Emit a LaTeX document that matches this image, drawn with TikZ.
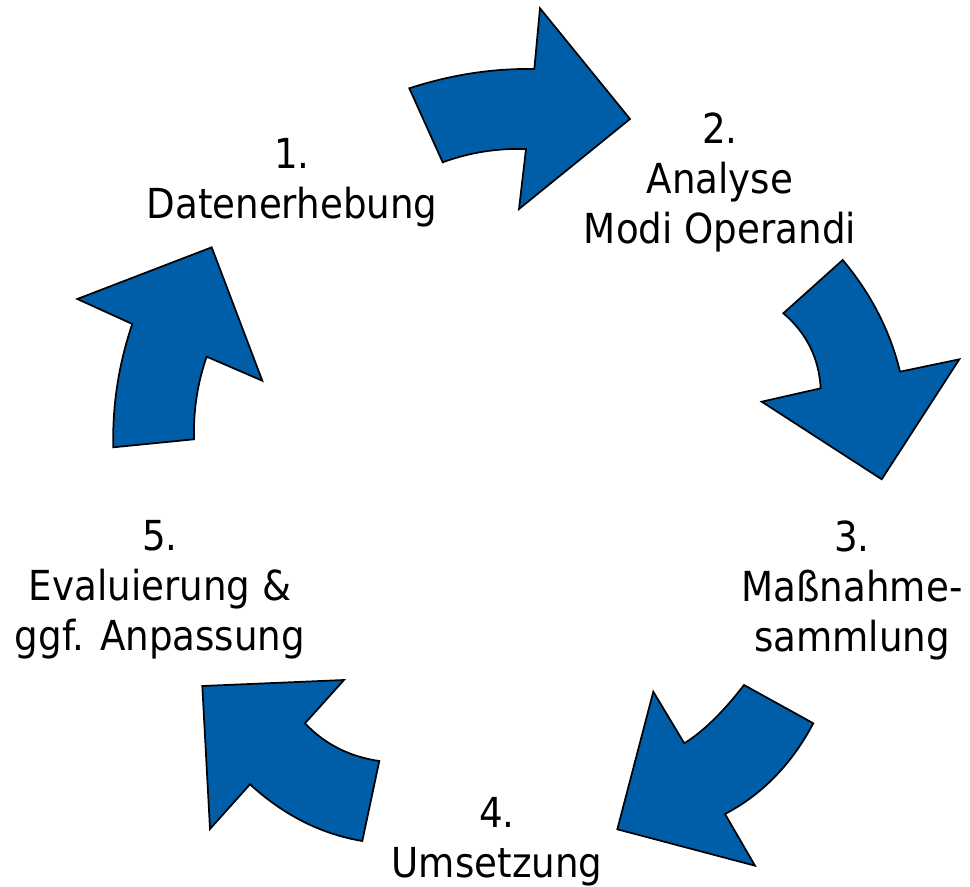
\documentclass[tikz,border=0pt]{standalone}
\usepackage{fontspec}
\setmainfont[FakeStretch=0.9]{DejaVu Sans}
\definecolor{arrowblue}{RGB}{0,94,168}
\begin{document}
\begin{tikzpicture}[x=0.75pt,y=-0.75pt,
  cyclearrow/.style={fill=arrowblue,draw=black,line width=1.3pt,line join=miter},
  steplabel/.style={align=center,font=\fontsize{31}{37.5}\selectfont,inner sep=0pt}]
\useasboundingbox (0,0) rectangle (970,887);
% arrow 1 (top)
\draw[cyclearrow] (409.3,88.3) .. controls (450.8,74.8) and (492.4,68.3) .. (534.3,69) -- (540,8.3) -- (630,119) -- (519,209) -- (526,149) .. controls (496.9,148.1) and (469.1,152.6) .. (442.7,162.3) -- cycle;
% arrow 2 (right)
\draw[cyclearrow] (842.7,260) .. controls (871.1,293.9) and (890.2,331.1) .. (900,371.7) -- (959.3,359.3) -- (881.7,479.3) -- (761.7,401.7) -- (820.7,388.3) .. controls (818.9,357.8) and (806.4,332.8) .. (783.3,313.3) -- cycle;
% arrow 3 (bottom right)
\draw[cyclearrow] (813.3,723.3) .. controls (791.6,764.2) and (762.2,794.5) .. (725,814) -- (755,865.7) -- (617.3,829.3) -- (653.3,691.7) -- (684.3,743.3) .. controls (703.1,731.6) and (723,712.2) .. (744,685) -- cycle;
% arrow 4 (bottom left)
\draw[cyclearrow] (362.3,841) .. controls (321.1,834.1) and (283.7,815.2) .. (250,784.3) -- (210,829) -- (202.3,686) -- (344,680) -- (305,723.3) .. controls (324.7,744.1) and (349.4,756.7) .. (379.3,761) -- cycle;
% arrow 5 (left)
\draw[cyclearrow] (113.3,447.3) .. controls (112.3,405.3) and (118.6,364.2) .. (132.3,324) -- (77.3,299) -- (211.7,247.3) -- (262.3,380.7) -- (206.7,356.7) .. controls (197.6,382.4) and (193.3,410) .. (194,439.3) -- cycle;
% labels
\node[steplabel] (s1) at (292,183) {1.\\Datenerhebung};
\node[steplabel] (s2) at (720,182) {2.\\Analyse\\Modi Operandi};
\node[steplabel] (s3) at (852,590) {3.\\Maßnahme-\\sammlung};
\node[steplabel] (s4) at (497,842) {4.\\Umsetzung};
\node[steplabel] (s5) at (160,590) {5.\\Evaluierung \&\\ggf. Anpassung};
\end{tikzpicture}
\end{document}
